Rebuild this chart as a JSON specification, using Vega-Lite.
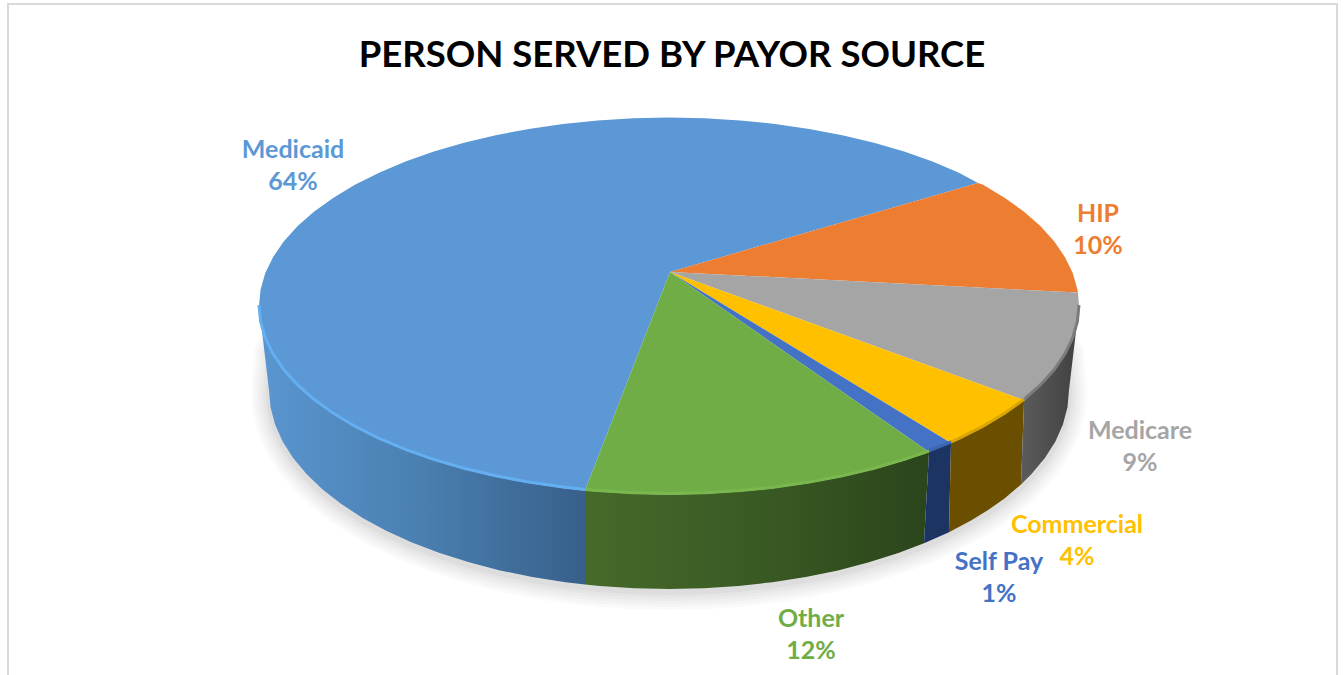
{"$schema":"https://vega.github.io/schema/vega-lite/v6.json","width":1344,"height":675,"padding":0,"autosize":{"type":"none"},"background":"white","config":{"view":{"stroke":null}},
"title":{"text":"PERSON SERVED BY PAYOR SOURCE","orient":"top","anchor":"middle","offset":-74,"font":"Lato","fontWeight":"bold","fontSize":36.5,"color":"#000000"},
"datasets":{
"labels":[{"slice":"Medicaid","share":0.64,"lx":293,"ly":150},{"slice":"HIP","share":0.10,"lx":1098,"ly":214},{"slice":"Medicare","share":0.09,"lx":1140,"ly":431},{"slice":"Commercial","share":0.04,"lx":1077,"ly":525},{"slice":"Self Pay","share":0.01,"lx":999,"ly":562},{"slice":"Other","share":0.12,"lx":811,"ly":619}],
"frame":[{"x":8,"y":675},{"x":8,"y":4},{"x":1337,"y":4},{"x":1337,"y":675}],
"edge":[{"x":1040,"y":300},{"x":1066,"y":350},{"x":1069,"y":390},{"x":1067.5,"y":407.3},{"x":1062.9,"y":424.5},{"x":1055.4,"y":441.5},{"x":1044.9,"y":458.1},{"x":1031.5,"y":474.1},{"x":1021,"y":484.6},{"x":1004.5,"y":498.4},{"x":988.5,"y":509.8},{"x":971,"y":520.5},{"x":949,"y":532.2},{"x":924,"y":543.3},{"x":898.4,"y":553},{"x":869,"y":562.3},{"x":838,"y":570.4},{"x":805.8,"y":577},{"x":772.5,"y":582.2},{"x":738.5,"y":586},{"x":703.9,"y":588.2},{"x":669,"y":589},{"x":634.1,"y":588.2},{"x":599.5,"y":586},{"x":565.5,"y":582.2},{"x":532.2,"y":577},{"x":500,"y":570.4},{"x":469,"y":562.3},{"x":439.6,"y":553},{"x":411.9,"y":542.4},{"x":386.2,"y":530.7},{"x":362.6,"y":517.9},{"x":341.3,"y":504.1},{"x":322.6,"y":489.5},{"x":306.5,"y":474.1},{"x":293.1,"y":458.1},{"x":282.6,"y":441.5},{"x":275.1,"y":424.5},{"x":270.5,"y":407.3},{"x":269,"y":390},{"x":272,"y":350},{"x":298,"y":300}],
"tops":[
{"slice":"Medicaid","x":670,"y":272},{"slice":"Medicaid","x":585,"y":490.5},{"slice":"Medicaid","x":562.9,"y":488.1},{"slice":"Medicaid","x":528.8,"y":483.1},{"slice":"Medicaid","x":495.7,"y":476.8},{"slice":"Medicaid","x":464,"y":469.2},{"slice":"Medicaid","x":433.8,"y":460.4},{"slice":"Medicaid","x":405.5,"y":450.4},{"slice":"Medicaid","x":379.1,"y":439.3},{"slice":"Medicaid","x":354.9,"y":427.2},{"slice":"Medicaid","x":333.1,"y":414.1},{"slice":"Medicaid","x":313.9,"y":400.3},{"slice":"Medicaid","x":297.4,"y":385.7},{"slice":"Medicaid","x":283.7,"y":370.5},{"slice":"Medicaid","x":273,"y":354.8},{"slice":"Medicaid","x":265.2,"y":338.7},{"slice":"Medicaid","x":260.6,"y":322.4},{"slice":"Medicaid","x":259,"y":306},{"slice":"Medicaid","x":260.6,"y":289.6},{"slice":"Medicaid","x":265.2,"y":273.3},{"slice":"Medicaid","x":273,"y":257.2},{"slice":"Medicaid","x":283.7,"y":241.5},{"slice":"Medicaid","x":297.4,"y":226.3},{"slice":"Medicaid","x":313.9,"y":211.7},{"slice":"Medicaid","x":333.1,"y":197.9},{"slice":"Medicaid","x":354.9,"y":184.8},{"slice":"Medicaid","x":379.1,"y":172.7},{"slice":"Medicaid","x":405.5,"y":161.6},{"slice":"Medicaid","x":433.8,"y":151.6},{"slice":"Medicaid","x":464,"y":142.8},{"slice":"Medicaid","x":495.7,"y":135.2},{"slice":"Medicaid","x":528.8,"y":128.9},{"slice":"Medicaid","x":562.9,"y":123.9},{"slice":"Medicaid","x":597.8,"y":120.4},{"slice":"Medicaid","x":633.3,"y":118.2},{"slice":"Medicaid","x":669,"y":117.5},{"slice":"Medicaid","x":704.7,"y":118.2},{"slice":"Medicaid","x":740.2,"y":120.4},{"slice":"Medicaid","x":775.1,"y":123.9},{"slice":"Medicaid","x":809.2,"y":128.9},{"slice":"Medicaid","x":842.3,"y":135.2},{"slice":"Medicaid","x":874,"y":142.8},{"slice":"Medicaid","x":904.2,"y":151.6},{"slice":"Medicaid","x":932.5,"y":161.6},{"slice":"Medicaid","x":958.9,"y":172.7},{"slice":"Medicaid","x":978,"y":183},
{"slice":"HIP","x":670,"y":272},{"slice":"HIP","x":978,"y":183},{"slice":"HIP","x":983.1,"y":184.8},{"slice":"HIP","x":1004.9,"y":197.9},{"slice":"HIP","x":1024.1,"y":211.7},{"slice":"HIP","x":1040.6,"y":226.3},{"slice":"HIP","x":1054.3,"y":241.5},{"slice":"HIP","x":1065,"y":257.2},{"slice":"HIP","x":1072.8,"y":273.3},{"slice":"HIP","x":1077.4,"y":289.6},{"slice":"HIP","x":1078,"y":292.5},
{"slice":"Medicare","x":670,"y":272},{"slice":"Medicare","x":1078,"y":292.5},{"slice":"Medicare","x":1079,"y":306},{"slice":"Medicare","x":1077.4,"y":322.4},{"slice":"Medicare","x":1072.8,"y":338.7},{"slice":"Medicare","x":1065,"y":354.8},{"slice":"Medicare","x":1054.3,"y":370.5},{"slice":"Medicare","x":1040.6,"y":385.7},{"slice":"Medicare","x":1024.1,"y":400.3},
{"slice":"Commercial","x":670,"y":272},{"slice":"Commercial","x":1024.1,"y":400.3},{"slice":"Commercial","x":1004.9,"y":414.1},{"slice":"Commercial","x":983.1,"y":427.2},{"slice":"Commercial","x":958.9,"y":439.3},{"slice":"Commercial","x":951,"y":443},
{"slice":"Self Pay","x":670,"y":272},{"slice":"Self Pay","x":951,"y":443},{"slice":"Self Pay","x":932.5,"y":450.4},{"slice":"Self Pay","x":929,"y":452},
{"slice":"Other","x":670,"y":272},{"slice":"Other","x":929,"y":452},{"slice":"Other","x":904.2,"y":460.4},{"slice":"Other","x":874,"y":469.2},{"slice":"Other","x":842.3,"y":476.8},{"slice":"Other","x":809.2,"y":483.1},{"slice":"Other","x":775.1,"y":488.1},{"slice":"Other","x":740.2,"y":491.6},{"slice":"Other","x":704.7,"y":493.8},{"slice":"Other","x":669,"y":494.5},{"slice":"Other","x":633.3,"y":493.8},{"slice":"Other","x":597.8,"y":491.6},{"slice":"Other","x":585,"y":490.5}],
"walls":[
{"slice":"Medicaid","part":"top","x":585,"y":490.5},{"slice":"Medicaid","part":"top","x":562.9,"y":488.1},{"slice":"Medicaid","part":"top","x":528.8,"y":483.1},{"slice":"Medicaid","part":"top","x":495.7,"y":476.8},{"slice":"Medicaid","part":"top","x":464,"y":469.2},{"slice":"Medicaid","part":"top","x":433.8,"y":460.4},{"slice":"Medicaid","part":"top","x":405.5,"y":450.4},{"slice":"Medicaid","part":"top","x":379.1,"y":439.3},{"slice":"Medicaid","part":"top","x":354.9,"y":427.2},{"slice":"Medicaid","part":"top","x":333.1,"y":414.1},{"slice":"Medicaid","part":"top","x":313.9,"y":400.3},{"slice":"Medicaid","part":"top","x":297.4,"y":385.7},{"slice":"Medicaid","part":"top","x":283.7,"y":370.5},{"slice":"Medicaid","part":"top","x":273,"y":354.8},{"slice":"Medicaid","part":"top","x":265.2,"y":338.7},{"slice":"Medicaid","part":"top","x":260.6,"y":322.4},{"slice":"Medicaid","part":"top","x":259,"y":306},
{"slice":"Medicaid","part":"bottom","x":269,"y":390},{"slice":"Medicaid","part":"bottom","x":270.5,"y":407.3},{"slice":"Medicaid","part":"bottom","x":275.1,"y":424.5},{"slice":"Medicaid","part":"bottom","x":282.6,"y":441.5},{"slice":"Medicaid","part":"bottom","x":293.1,"y":458.1},{"slice":"Medicaid","part":"bottom","x":306.5,"y":474.1},{"slice":"Medicaid","part":"bottom","x":322.6,"y":489.5},{"slice":"Medicaid","part":"bottom","x":341.3,"y":504.1},{"slice":"Medicaid","part":"bottom","x":362.6,"y":517.9},{"slice":"Medicaid","part":"bottom","x":386.2,"y":530.7},{"slice":"Medicaid","part":"bottom","x":411.9,"y":542.4},{"slice":"Medicaid","part":"bottom","x":439.6,"y":553},{"slice":"Medicaid","part":"bottom","x":469,"y":562.3},{"slice":"Medicaid","part":"bottom","x":500,"y":570.4},{"slice":"Medicaid","part":"bottom","x":532.2,"y":577},{"slice":"Medicaid","part":"bottom","x":565.5,"y":582.2},{"slice":"Medicaid","part":"bottom","x":585,"y":584.6},
{"slice":"Medicare","part":"top","x":1079,"y":306},{"slice":"Medicare","part":"top","x":1077.4,"y":322.4},{"slice":"Medicare","part":"top","x":1072.8,"y":338.7},{"slice":"Medicare","part":"top","x":1065,"y":354.8},{"slice":"Medicare","part":"top","x":1054.3,"y":370.5},{"slice":"Medicare","part":"top","x":1040.6,"y":385.7},{"slice":"Medicare","part":"top","x":1024.1,"y":400.3},
{"slice":"Medicare","part":"bottom","x":1021,"y":484.6},{"slice":"Medicare","part":"bottom","x":1031.5,"y":474.1},{"slice":"Medicare","part":"bottom","x":1044.9,"y":458.1},{"slice":"Medicare","part":"bottom","x":1055.4,"y":441.5},{"slice":"Medicare","part":"bottom","x":1062.9,"y":424.5},{"slice":"Medicare","part":"bottom","x":1067.5,"y":407.3},{"slice":"Medicare","part":"bottom","x":1069,"y":390},
{"slice":"Commercial","part":"top","x":1024.1,"y":400.3},{"slice":"Commercial","part":"top","x":1004.9,"y":414.1},{"slice":"Commercial","part":"top","x":983.1,"y":427.2},{"slice":"Commercial","part":"top","x":958.9,"y":439.3},{"slice":"Commercial","part":"top","x":951,"y":443},
{"slice":"Commercial","part":"bottom","x":949,"y":532.2},{"slice":"Commercial","part":"bottom","x":971,"y":520.5},{"slice":"Commercial","part":"bottom","x":988.5,"y":509.8},{"slice":"Commercial","part":"bottom","x":1004.5,"y":498.4},{"slice":"Commercial","part":"bottom","x":1021,"y":484.6},
{"slice":"Self Pay","part":"top","x":951,"y":443},{"slice":"Self Pay","part":"top","x":932.5,"y":450.4},{"slice":"Self Pay","part":"top","x":929,"y":452},
{"slice":"Self Pay","part":"bottom","x":924,"y":543.3},{"slice":"Self Pay","part":"bottom","x":949,"y":532.2},
{"slice":"Other","part":"top","x":929,"y":452},{"slice":"Other","part":"top","x":904.2,"y":460.4},{"slice":"Other","part":"top","x":874,"y":469.2},{"slice":"Other","part":"top","x":842.3,"y":476.8},{"slice":"Other","part":"top","x":809.2,"y":483.1},{"slice":"Other","part":"top","x":775.1,"y":488.1},{"slice":"Other","part":"top","x":740.2,"y":491.6},{"slice":"Other","part":"top","x":704.7,"y":493.8},{"slice":"Other","part":"top","x":669,"y":494.5},{"slice":"Other","part":"top","x":633.3,"y":493.8},{"slice":"Other","part":"top","x":597.8,"y":491.6},{"slice":"Other","part":"top","x":585,"y":490.5},
{"slice":"Other","part":"bottom","x":585,"y":584.6},{"slice":"Other","part":"bottom","x":599.5,"y":586},{"slice":"Other","part":"bottom","x":634.1,"y":588.2},{"slice":"Other","part":"bottom","x":669,"y":589},{"slice":"Other","part":"bottom","x":703.9,"y":588.2},{"slice":"Other","part":"bottom","x":738.5,"y":586},{"slice":"Other","part":"bottom","x":772.5,"y":582.2},{"slice":"Other","part":"bottom","x":805.8,"y":577},{"slice":"Other","part":"bottom","x":838,"y":570.4},{"slice":"Other","part":"bottom","x":869,"y":562.3},{"slice":"Other","part":"bottom","x":898.4,"y":553},{"slice":"Other","part":"bottom","x":924,"y":543.3}]
},
"encoding":{"x":{"field":"x","type":"quantitative","scale":{"domain":[0,1344],"nice":false,"zero":false},"axis":null},"y":{"field":"y","type":"quantitative","scale":{"domain":[675,0],"nice":false,"zero":false},"axis":null}},
"layer":[
{"data":{"name":"frame"},"transform":[{"window":[{"op":"row_number","as":"seq"}]}],"mark":{"type":"line","stroke":"#d9d9d9","strokeWidth":2,"clip":true},"encoding":{"order":{"field":"seq","type":"quantitative"}}},
{"data":{"name":"edge"},"transform":[{"window":[{"op":"row_number","as":"seq"}]}],"mark":{"type":"line","stroke":"#000000","strokeOpacity":0.018,"strokeWidth":36,"yOffset":3},"encoding":{"order":{"field":"seq","type":"quantitative"}}},
{"data":{"name":"edge"},"transform":[{"window":[{"op":"row_number","as":"seq"}]}],"mark":{"type":"line","stroke":"#000000","strokeOpacity":0.018,"strokeWidth":30,"yOffset":3},"encoding":{"order":{"field":"seq","type":"quantitative"}}},
{"data":{"name":"edge"},"transform":[{"window":[{"op":"row_number","as":"seq"}]}],"mark":{"type":"line","stroke":"#000000","strokeOpacity":0.02,"strokeWidth":24,"yOffset":3},"encoding":{"order":{"field":"seq","type":"quantitative"}}},
{"data":{"name":"edge"},"transform":[{"window":[{"op":"row_number","as":"seq"}]}],"mark":{"type":"line","stroke":"#000000","strokeOpacity":0.02,"strokeWidth":18,"yOffset":3},"encoding":{"order":{"field":"seq","type":"quantitative"}}},
{"data":{"name":"edge"},"transform":[{"window":[{"op":"row_number","as":"seq"}]}],"mark":{"type":"line","stroke":"#000000","strokeOpacity":0.025,"strokeWidth":12,"yOffset":3},"encoding":{"order":{"field":"seq","type":"quantitative"}}},
{"data":{"name":"edge"},"transform":[{"window":[{"op":"row_number","as":"seq"}]}],"mark":{"type":"line","stroke":"#000000","strokeOpacity":0.03,"strokeWidth":6,"yOffset":3},"encoding":{"order":{"field":"seq","type":"quantitative"}}},
{"data":{"name":"walls"},"transform":[{"window":[{"op":"row_number","as":"seq"}]},{"filter":"datum.slice==='Medicaid'"}],"mark":{"type":"line","strokeWidth":0,"fill":{"gradient":"linear","x1":0,"x2":1,"y1":0,"y2":0,"stops":[{"offset":0,"color":"#5a96d0"},{"offset":0.5,"color":"#4a7fb0"},{"offset":1,"color":"#37608a"}]}},"encoding":{"order":{"field":"seq","type":"quantitative"}}},
{"data":{"name":"walls"},"transform":[{"window":[{"op":"row_number","as":"seq"}]},{"filter":"datum.slice==='Other'"}],"mark":{"type":"line","strokeWidth":0,"fill":{"gradient":"linear","x1":0,"x2":1,"y1":0,"y2":0,"stops":[{"offset":0,"color":"#466a2a"},{"offset":0.5,"color":"#3a5a24"},{"offset":1,"color":"#2b451b"}]}},"encoding":{"order":{"field":"seq","type":"quantitative"}}},
{"data":{"name":"walls"},"transform":[{"window":[{"op":"row_number","as":"seq"}]},{"filter":"datum.slice==='Self Pay'"}],"mark":{"type":"line","strokeWidth":0,"fill":"#1c3461"},"encoding":{"order":{"field":"seq","type":"quantitative"}}},
{"data":{"name":"walls"},"transform":[{"window":[{"op":"row_number","as":"seq"}]},{"filter":"datum.slice==='Commercial'"}],"mark":{"type":"line","strokeWidth":0,"fill":"#6b4f00"},"encoding":{"order":{"field":"seq","type":"quantitative"}}},
{"data":{"name":"walls"},"transform":[{"window":[{"op":"row_number","as":"seq"}]},{"filter":"datum.slice==='Medicare'"}],"mark":{"type":"line","strokeWidth":0,"fill":{"gradient":"linear","x1":0,"x2":1,"y1":0,"y2":0,"stops":[{"offset":0,"color":"#5c5c5c"},{"offset":1,"color":"#404040"}]}},"encoding":{"order":{"field":"seq","type":"quantitative"}}},
{"data":{"name":"tops"},"transform":[{"window":[{"op":"row_number","as":"seq"}]}],"mark":{"type":"line","strokeWidth":0,"fill":"#5b9bd5"},"encoding":{"order":{"field":"seq","type":"quantitative"},"fill":{"field":"slice","type":"nominal","legend":null,"scale":{"domain":["Medicaid","HIP","Medicare","Commercial","Self Pay","Other"],"range":["#5b98d5","#ed7d31","#a5a5a5","#ffc000","#4472c4","#70ad47"]}}}},
{"data":{"name":"walls"},"transform":[{"window":[{"op":"row_number","as":"seq"}]},{"filter":"datum.part==='top'"}],"mark":{"type":"line","strokeWidth":3,"yOffset":-1},"encoding":{"order":{"field":"seq","type":"quantitative"},"stroke":{"field":"slice","type":"nominal","legend":null,"scale":{"domain":["Medicaid","Medicare","Commercial","Self Pay","Other"],"range":["#64aef2","#7c7c7c","#d9a604","#3b66b2","#7ab84f"]}}}},
{"data":{"name":"labels"},"mark":{"type":"text","font":"Lato","fontWeight":"bold","fontSize":25,"align":"center","baseline":"middle"},"encoding":{"x":{"field":"lx","type":"quantitative"},"y":{"field":"ly","type":"quantitative"},"text":{"field":"slice","type":"nominal"},"color":{"field":"slice","type":"nominal","legend":null,"scale":{"domain":["Medicaid","HIP","Medicare","Commercial","Self Pay","Other"],"range":["#5b98d5","#ed7d31","#a5a5a5","#ffc000","#4472c4","#70ad47"]}}}},
{"data":{"name":"labels"},"mark":{"type":"text","font":"Lato","fontWeight":"bold","fontSize":25,"align":"center","baseline":"middle","dy":32},"encoding":{"x":{"field":"lx","type":"quantitative"},"y":{"field":"ly","type":"quantitative"},"text":{"field":"share","type":"quantitative","format":".0%"},"color":{"field":"slice","type":"nominal","legend":null,"scale":{"domain":["Medicaid","HIP","Medicare","Commercial","Self Pay","Other"],"range":["#5b98d5","#ed7d31","#a5a5a5","#ffc000","#4472c4","#70ad47"]}}}}
]}
